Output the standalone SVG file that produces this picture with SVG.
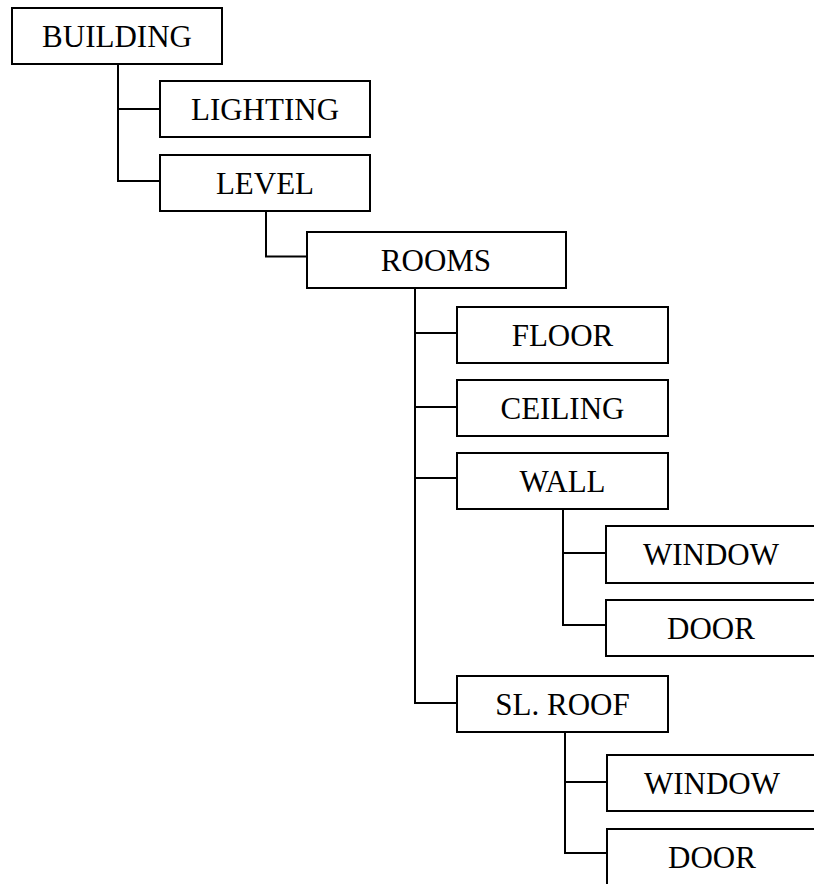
<svg xmlns="http://www.w3.org/2000/svg" width="814" height="884" viewBox="0 0 814 884">
<style>
rect{fill:#fff;stroke:#000;stroke-width:2}
text{font-family:"Liberation Serif","Times New Roman",serif;font-size:31px;fill:#000;text-anchor:middle}
.c path{fill:none;stroke:#000;stroke-width:2}
</style>
<rect x="0" y="0" width="814" height="884" style="stroke:none"/>
<g class="c" id="connectors">
<path d="M118 64V181H160M118 109H160"/>
<path d="M266 211V256.5H307"/>
<path d="M415 288V703H457M415 333H457M415 407H457M415 478H457"/>
<path d="M563 509V625H606M563 553H606"/>
<path d="M565 732V853H607M565 782H607"/>
</g>
<g id="building"><rect x="12" y="8" width="210" height="56"/><text x="117" y="47">BUILDING</text></g>
<g id="lighting"><rect x="160" y="81" width="210" height="56"/><text x="265" y="120">LIGHTING</text></g>
<g id="level"><rect x="160" y="155" width="210" height="56"/><text x="265" y="194">LEVEL</text></g>
<g id="rooms"><rect x="307" y="232" width="259" height="56"/><text x="436" y="271">ROOMS</text></g>
<g id="floor"><rect x="457" y="307" width="211" height="56"/><text x="562.5" y="346">FLOOR</text></g>
<g id="ceiling"><rect x="457" y="380" width="211" height="56"/><text x="562.5" y="419">CEILING</text></g>
<g id="wall"><rect x="457" y="453" width="211" height="56"/><text x="562.5" y="492">WALL</text></g>
<g id="wall-window"><rect x="606" y="526" width="210" height="57"/><text x="711" y="565">WINDOW</text></g>
<g id="wall-door"><rect x="606" y="600" width="210" height="56"/><text x="711" y="639">DOOR</text></g>
<g id="sl-roof"><rect x="457" y="676" width="211" height="56"/><text x="562.5" y="715">SL. ROOF</text></g>
<g id="roof-window"><rect x="607" y="755" width="210" height="56"/><text x="712" y="794">WINDOW</text></g>
<g id="roof-door"><rect x="607" y="829" width="210" height="60"/><text x="712" y="868">DOOR</text></g>
</svg>
